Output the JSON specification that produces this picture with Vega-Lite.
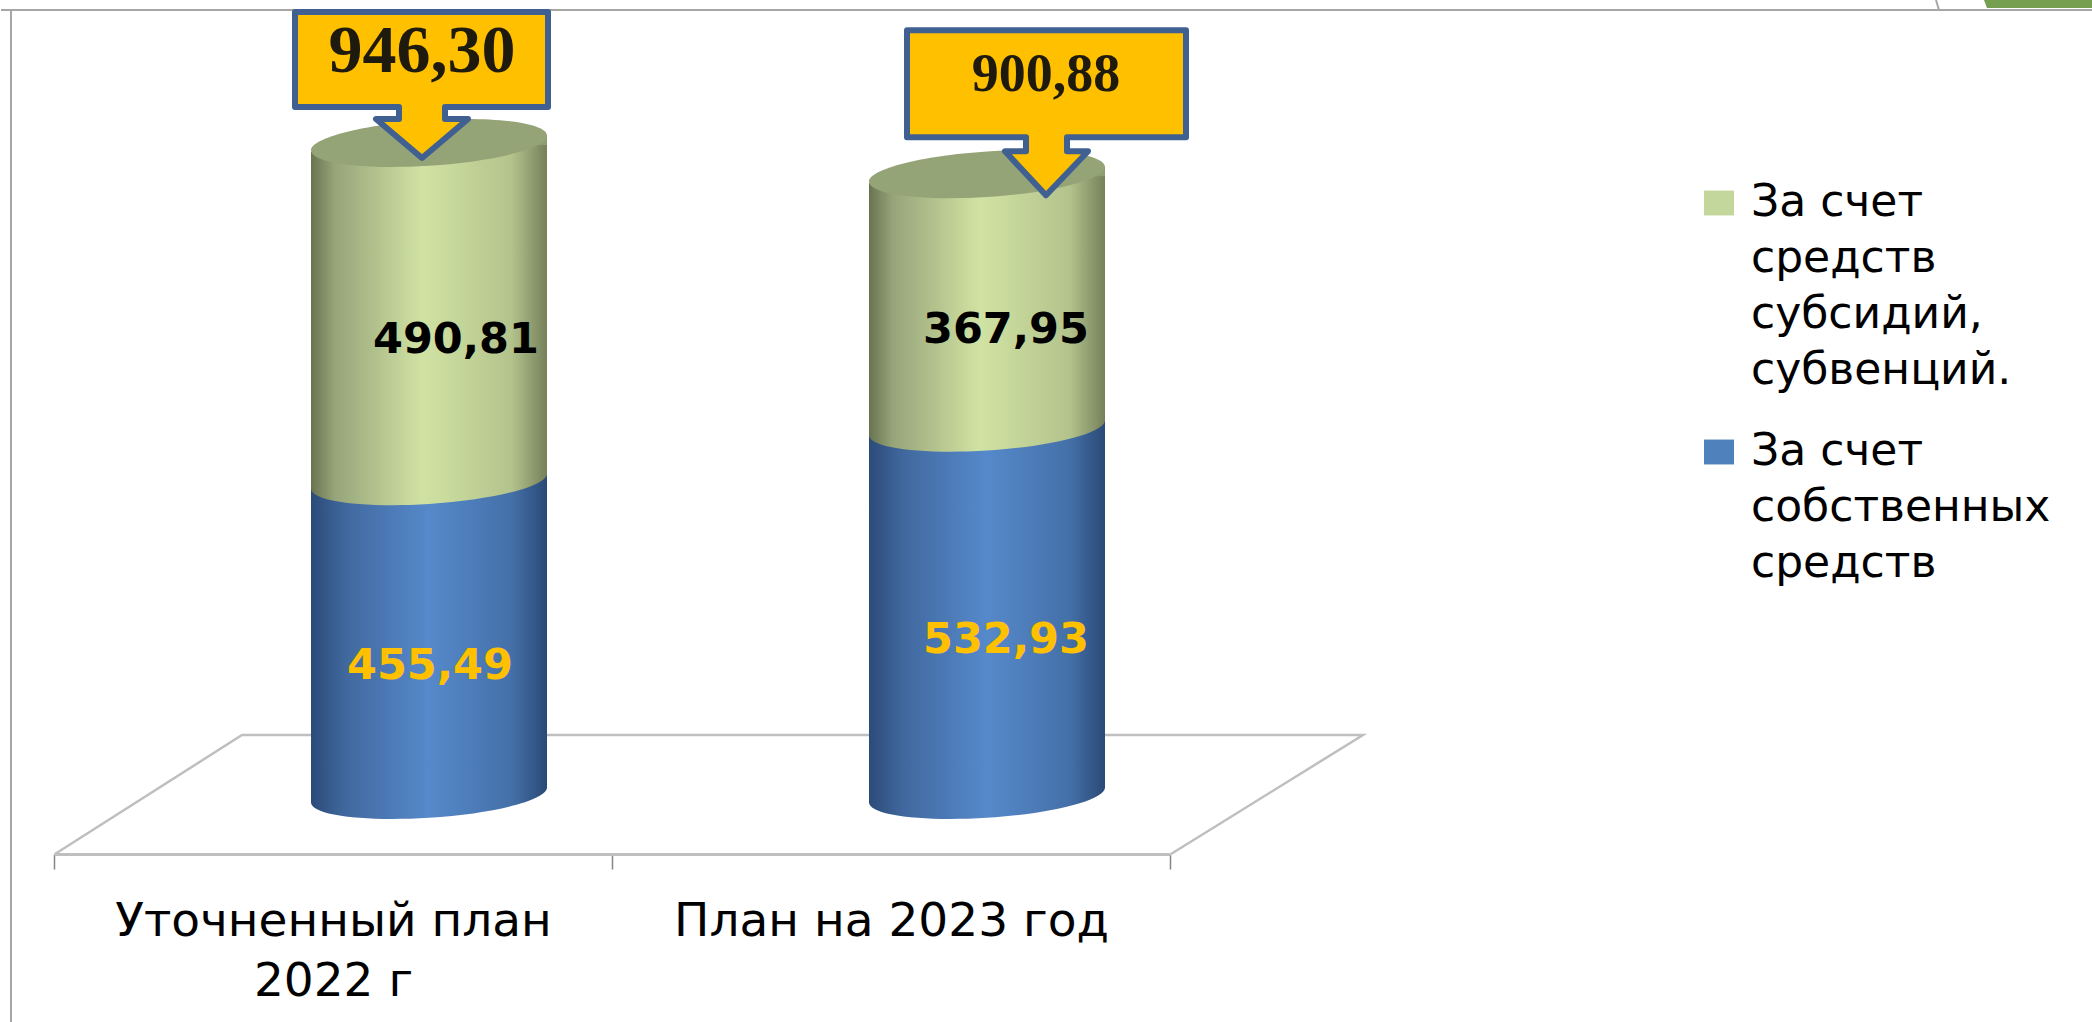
{
"$schema":"https://vega.github.io/schema/vega-lite/v6.json",
"width":2092,"height":854,"autosize":{"type":"none"},"padding":{"left":0,"top":0,"right":0,"bottom":168},
"background":"white",
"config":{"view":{"stroke":null}},
"datasets":{
"segments":[
{"cat":"Уточненный план|2022 г","series":"За счет собственных средств","value":455.49},
{"cat":"Уточненный план|2022 г","series":"За счет средств субсидий, субвенций.","value":490.81},
{"cat":"План на 2023 год","series":"За счет собственных средств","value":532.93},
{"cat":"План на 2023 год","series":"За счет средств субсидий, субвенций.","value":367.95}],
"totals":[
{"cat":"Уточненный план|2022 г","total":946.30,"label":"946,30"},
{"cat":"План на 2023 год","total":900.88,"label":"900,88"}]
},
"data":{"name":"segments"},
"transform":[
{"stack":"value","groupby":["cat"],"sort":[{"field":"series","order":"ascending"}],"as":["y0","y1"]},
{"calculate":"(datum.y0+datum.y1)/2","as":"mid"}
],
"encoding":{
"x":{"field":"cat","type":"nominal","sort":null,"scale":{"type":"band","range":[54,1170],"paddingInner":0,"paddingOuter":0},
"axis":{"title":null,"labelAngle":0,"labelExpr":"split(datum.label,'|')","labelFont":"DejaVu Sans","labelFontSize":47,"labelColor":"#000000","labelLineHeight":60,"labelPadding":29,"labelLimit":0,"domainColor":"#BFBFBF","domainWidth":3,"tickColor":"#868686","tickWidth":1.5,"tickSize":15,"tickBand":"extent","labelBaseline":"top"}}
},
"layer":[
{"data":{"name":"totals"},"transform":[{"filter":"datum.total==946.30"}],
"mark":{"type":"point","shape":"M-374,59L-187,-60L934,-60L742,59","filled":false,"stroke":"#BFBFBF","strokeWidth":2.5,"size":4,"opacity":1,"xOffset":96},
"encoding":{"y":{"field":"total","datum":0,"type":"quantitative","scale":{"domain":[0,1000],"range":[795,106],"nice":false},"axis":null}}},
{"data":{"name":"totals"},"transform":[{"filter":"datum.total==946.30"}],
"mark":{"type":"point","shape":"M-428,-785L1664,-785M-418,-785L-418,227M1507,-795L1510,-785","filled":false,"stroke":"#A6A6A6","strokeWidth":2,"size":4,"opacity":1,"xOffset":96},
"encoding":{"y":{"datum":0,"type":"quantitative"}}},
{"data":{"name":"totals"},"transform":[{"filter":"datum.total==946.30"}],
"mark":{"type":"point","shape":"M1555,-795L1664,-795L1664,-787L1558,-787Z","filled":true,"fill":"#76A050","stroke":null,"size":4,"opacity":1,"xOffset":96},
"encoding":{"y":{"datum":0,"type":"quantitative"}}},
{"mark":{"type":"bar","width":236,"opacity":0,"xOffset":96},
"encoding":{"y":{"field":"y1","type":"quantitative"},"y2":{"field":"y0"},
"color":{"field":"series","type":"nominal","scale":{"domain":["За счет средств субсидий, субвенций.","За счет собственных средств"],"range":["#C3D69B","#4F81BD"]},
"legend":{"orient":"none","legendX":1697,"legendY":181,"title":null,"symbolType":"M-1,-0.83H1V0.83H-1Z","symbolSize":900,"symbolOpacity":1,"symbolStrokeWidth":0,"labelFont":"DejaVu Sans","labelFontSize":44,"labelColor":"#000000","labelLimit":0,"labelOffset":10,"rowPadding":37,
"labelExpr":"datum.label=='За счет собственных средств'?['За счет','собственных','средств']:['За счет','средств','субсидий,','субвенций.']",
"encode":{"labels":{"update":{"lineHeight":{"value":56}}}}}}}},
{"transform":[{"filter":"datum.series=='За счет средств субсидий, субвенций.'"}],
"mark":{"type":"bar","width":236,"xOffset":96,"color":{"x1":0,"y1":0,"x2":1,"y2":0,"gradient":"linear","stops":[{"offset":0,"color":"#68744F"},{"offset":0.1,"color":"#96A479"},{"offset":0.47,"color":"#D1E3A3"},{"offset":0.85,"color":"#B3C38C"},{"offset":1,"color":"#76805A"}]}},
"encoding":{"y":{"field":"y1","type":"quantitative"},"y2":{"field":"y0"}}},
{"transform":[{"filter":"datum.series=='За счет собственных средств'"}],
"mark":{"type":"bar","width":236,"xOffset":96,"yOffset":-8,"y2Offset":-8,"color":{"x1":0,"y1":0,"x2":1,"y2":0,"gradient":"linear","stops":[{"offset":0,"color":"#2C4B79"},{"offset":0.15,"color":"#41699F"},{"offset":0.5,"color":"#5689CB"},{"offset":0.85,"color":"#4470A8"},{"offset":1,"color":"#2A4A77"}]}},
"encoding":{"y":{"field":"y1","type":"quantitative"},"y2":{"field":"y0"}}},
{"transform":[{"filter":"datum.series=='За счет собственных средств'"}],
"mark":{"type":"point","xOffset":96,"filled":true,"stroke":null,"size":4,"opacity":1,"shape":"M-118,-9L118,-9L118,-7.5C118,5.1 65.2,18.7 0,22.8C-65.2,26.9 -118,20.1 -118,7.5Z","fill":{"x1":0,"y1":0,"x2":1,"y2":0,"gradient":"linear","stops":[{"offset":0,"color":"#2C4B79"},{"offset":0.15,"color":"#41699F"},{"offset":0.5,"color":"#5689CB"},{"offset":0.85,"color":"#4470A8"},{"offset":1,"color":"#2A4A77"}]}},
"encoding":{"y":{"field":"y0","type":"quantitative"}}},
{"transform":[{"filter":"datum.series=='За счет средств субсидий, субвенций.'"}],
"mark":{"type":"point","xOffset":96,"filled":true,"stroke":null,"size":4,"opacity":1,"shape":"M-118,-9L118,-9L118,-7.5C118,5.1 65.2,18.7 0,22.8C-65.2,26.9 -118,20.1 -118,7.5Z","fill":{"x1":0,"y1":0,"x2":1,"y2":0,"gradient":"linear","stops":[{"offset":0,"color":"#68744F"},{"offset":0.1,"color":"#96A479"},{"offset":0.47,"color":"#D1E3A3"},{"offset":0.85,"color":"#B3C38C"},{"offset":1,"color":"#76805A"}]}},
"encoding":{"y":{"field":"y0","type":"quantitative"}}},
{"transform":[{"filter":"datum.series=='За счет средств субсидий, субвенций.'"}],
"mark":{"type":"point","xOffset":96,"filled":true,"stroke":null,"size":4,"opacity":1,"shape":"M-119,-1L10,-1L-119,9Z","fill":"#FFFFFF"},
"encoding":{"y":{"field":"y1","type":"quantitative"}}},
{"transform":[{"filter":"datum.series=='За счет средств субсидий, субвенций.'"}],
"mark":{"type":"point","xOffset":96,"filled":true,"stroke":null,"size":4,"opacity":1,"shape":"M118,-7.5L118,2L60,2Z","fill":"#8F9D72"},
"encoding":{"y":{"field":"y1","type":"quantitative"}}},
{"transform":[{"filter":"datum.series=='За счет средств субсидий, субвенций.'"}],
"mark":{"type":"point","xOffset":96,"filled":true,"stroke":null,"size":4,"opacity":1,"shape":"M118,-7.5C118,5.1 65.2,18.7 0,22.8C-65.2,26.9 -118,20.1 -118,7.5C-118,-5.1 -65.2,-18.7 0,-22.8C65.2,-26.9 118,-20.1 118,-7.5Z","fill":"#95A477"},
"encoding":{"y":{"field":"y1","type":"quantitative"}}},
{"transform":[{"filter":"datum.value==490.81"}],"mark":{"type":"text","font":"DejaVu Sans","fontWeight":"bold","fontSize":43,"color":"#000000","dx":123,"dy":28},"encoding":{"y":{"field":"mid","type":"quantitative"},"text":{"value":"490,81"}}},
{"transform":[{"filter":"datum.value==367.95"}],"mark":{"type":"text","font":"DejaVu Sans","fontWeight":"bold","fontSize":43,"color":"#000000","dx":115,"dy":29},"encoding":{"y":{"field":"mid","type":"quantitative"},"text":{"value":"367,95"}}},
{"transform":[{"filter":"datum.value==455.49"}],"mark":{"type":"text","font":"DejaVu Sans","fontWeight":"bold","fontSize":43,"color":"#FFC000","dx":97,"dy":28},"encoding":{"y":{"field":"mid","type":"quantitative"},"text":{"value":"455,49"}}},
{"transform":[{"filter":"datum.value==532.93"}],"mark":{"type":"text","font":"DejaVu Sans","fontWeight":"bold","fontSize":43,"color":"#FFC000","dx":115,"dy":29},"encoding":{"y":{"field":"mid","type":"quantitative"},"text":{"value":"532,93"}}},
{"data":{"name":"totals"},"transform":[{"filter":"datum.total==946.30"}],
"mark":{"type":"point","xOffset":96,"filled":true,"size":4,"opacity":1,"fill":"#FFC000","stroke":"#3F6090","strokeWidth":6,"strokeJoin":"round","shape":"M-134,-131L119,-131L119,-36L16,-36L16,-24L39,-24L-7,15L-53,-24L-30,-24L-30,-36L-134,-36Z"},
"encoding":{"y":{"field":"total","type":"quantitative"}}},
{"data":{"name":"totals"},"transform":[{"filter":"datum.total==900.88"}],
"mark":{"type":"point","xOffset":96,"filled":true,"size":4,"opacity":1,"fill":"#FFC000","stroke":"#3F6090","strokeWidth":6,"strokeJoin":"round","shape":"M-80,-144L199,-144L199,-37L80,-37L80,-23L101,-23L59,21L18,-23L39,-23L39,-37L-80,-37Z"},
"encoding":{"y":{"field":"total","type":"quantitative"}}},
{"data":{"name":"totals"},"transform":[{"filter":"datum.total==946.30"}],
"mark":{"type":"text","font":"Liberation Serif","fontWeight":"bold","fontSize":68,"color":"#1F1A0E","dx":89,"dy":-91},
"encoding":{"y":{"field":"total","type":"quantitative"},"text":{"field":"label"}}},
{"data":{"name":"totals"},"transform":[{"filter":"datum.total==900.88"}],
"mark":{"type":"text","font":"Liberation Serif","fontWeight":"bold","fontSize":54,"color":"#1F1A0E","dx":155,"dy":-99},
"encoding":{"y":{"field":"total","type":"quantitative"},"text":{"field":"label"}}}
]
}
